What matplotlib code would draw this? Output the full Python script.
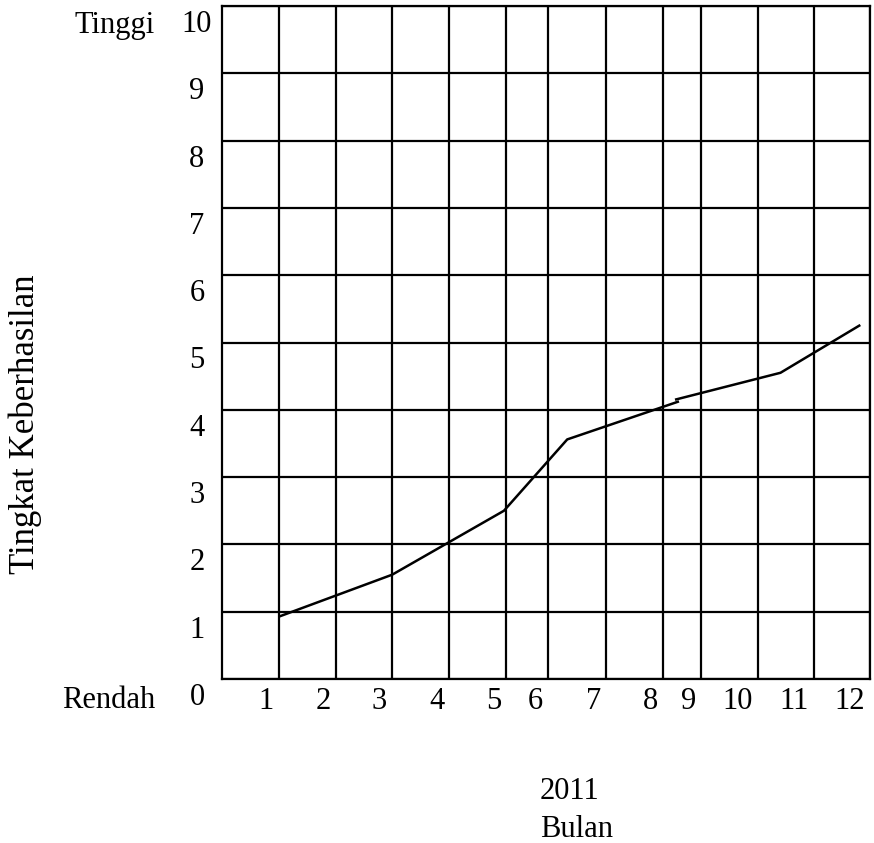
import matplotlib
matplotlib.use("Agg")
import matplotlib.pyplot as plt
from matplotlib.transforms import ScaledTranslation

plt.rcParams['font.family'] = ['Liberation Serif', 'DejaVu Serif']
plt.rcParams['font.size'] = 22

# Month labels and the (irregular) positions of their vertical grid lines
bulan = ["1", "2", "3", "4", "5", "6", "7", "8", "9", "10", "11", "12"]
batas_bulan = [0, 1.0, 2.005, 2.99, 3.99, 4.99, 5.72, 6.74, 7.74, 8.41, 9.41, 10.39, 11.37]

# Level ticks
tingkat = [0, 1, 2, 3, 4, 5, 6, 7, 8, 9, 10]

# Line series (drawn in two slightly overlapping pieces, as in the original)
x_garis_a = [1.014, 2.99, 4.95, 6.06, 8.02]
y_garis_a = [0.93, 1.55, 2.50, 3.56, 4.125]
x_garis_b = [7.95, 9.80, 11.20]
y_garis_b = [4.15, 4.55, 5.26]

W, H = 874, 843
fig = plt.figure(figsize=(W / 100, H / 100), dpi=100)
L, R, T, B = 221.7, 870, 6, 679
ax = fig.add_axes([L / W, 1 - B / H, (R - L) / W, (B - T) / H])

ax.set_xlim(batas_bulan[0], batas_bulan[-1])
ax.set_ylim(tingkat[0], tingkat[-1])

ax.set_xticks(batas_bulan[1:])
ax.set_xticklabels(bulan)
ax.set_yticks(tingkat)
ax.set_yticklabels([str(t) for t in tingkat])

lw = 1.6
ax.grid(True, color='black', linewidth=lw)
for s in ax.spines.values():
    s.set_linewidth(lw)
    s.set_color('black')
ax.tick_params(axis='both', length=0)
ax.tick_params(axis='x', pad=5.5)
ax.tick_params(axis='y', pad=17.8)

for lab in ax.get_xticklabels():
    lab.set_horizontalalignment('right')
    lab.set_transform(lab.get_transform() + ScaledTranslation(-5 / 100, 0, fig.dpi_scale_trans))
for lab in ax.get_yticklabels():
    lab.set_horizontalalignment('center')
    lab.set_transform(lab.get_transform() + ScaledTranslation(0, -15 / 100, fig.dpi_scale_trans))

ax.plot(x_garis_a, y_garis_a, color='black', linewidth=1.8, solid_capstyle='butt')
ax.plot(x_garis_b, y_garis_b, color='black', linewidth=1.8, solid_capstyle='butt')

def fx(x):
    return x / W

def fy(y):
    return 1 - y / H

fig.text(fx(155), fy(22), "Tinggi", ha='right', va='center_baseline')
fig.text(fx(155), fy(697), "Rendah", ha='right', va='center_baseline')
fig.text(fx(25), fy(424), "Tingkat Keberhasilan", rotation=90, ha='center', va='center',
         fontsize=25)
fig.text(fx(540), fy(788), "2011", ha='left', va='center_baseline')
fig.text(fx(540), fy(826), "Bulan", ha='left', va='center_baseline')

fig.savefig("out.png", dpi=100, facecolor='white')
